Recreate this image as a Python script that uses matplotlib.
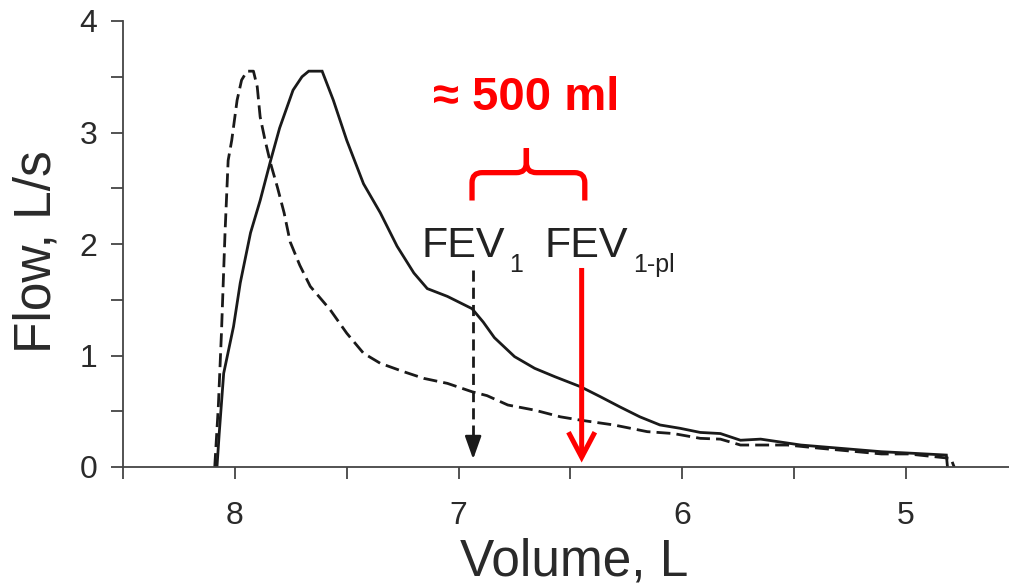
import matplotlib
matplotlib.use("Agg")
import matplotlib.pyplot as plt
from matplotlib.path import Path
from matplotlib.patches import PathPatch
from matplotlib.ticker import MultipleLocator, FuncFormatter

plt.rcParams['font.family'] = ['Liberation Sans', 'DejaVu Sans']

# ---- data ----
vol_solid = [8.08, 8.07, 8.05, 8.006, 7.976, 7.93, 7.887, 7.84, 7.80, 7.74, 7.70,
             7.67, 7.61, 7.56, 7.50, 7.425, 7.35, 7.275, 7.20, 7.14, 7.05, 6.94,
             6.89, 6.84, 6.75, 6.66, 6.57, 6.455, 6.366, 6.28, 6.19, 6.10, 6.01,
             5.92, 5.83, 5.74, 5.65, 5.47, 5.29, 5.11, 4.96, 4.82, 4.815]
flow_solid = [0.0, 0.30, 0.84, 1.26, 1.65, 2.10, 2.39, 2.75, 3.04, 3.38, 3.50,
              3.55, 3.55, 3.29, 2.93, 2.54, 2.28, 1.98, 1.74, 1.60, 1.53, 1.42,
              1.30, 1.16, 0.99, 0.885, 0.81, 0.72, 0.63, 0.54, 0.45, 0.377, 0.347,
              0.31, 0.30, 0.24, 0.25, 0.197, 0.167, 0.137, 0.122, 0.107, 0.0]

vol_dashed = [8.09, 8.074, 8.06, 8.044, 8.03, 8.014, 7.99, 7.97, 7.946, 7.917,
              7.90, 7.887, 7.865, 7.84, 7.81, 7.78, 7.753, 7.71, 7.663, 7.574,
              7.50, 7.425, 7.35, 7.246, 7.156, 7.05, 6.94, 6.873, 6.78, 6.66,
              6.545, 6.455, 6.306, 6.157, 6.04, 5.92, 5.83, 5.74, 5.53, 5.38,
              5.11, 4.99, 4.80, 4.785]
flow_dashed = [0.0, 0.54, 1.2, 2.1, 2.75, 2.93, 3.29, 3.47, 3.55, 3.55,
               3.41, 3.14, 2.93, 2.72, 2.51, 2.28, 2.02, 1.81, 1.62, 1.41,
               1.20, 1.02, 0.93, 0.855, 0.795, 0.75, 0.675, 0.64, 0.556, 0.51,
               0.45, 0.42, 0.377, 0.317, 0.30, 0.257, 0.25, 0.197, 0.197, 0.167,
               0.117, 0.117, 0.077, 0.0]

fev1 = 6.935
fev1_pl = 6.45
x_ticks = [8, 7, 6, 5]
y_ticks = [0, 1, 2, 3, 4]

# ---- figure ----
W, H = 1009, 586
fig = plt.figure(figsize=(W / 100, H / 100), dpi=100)
L, R, B, T = 123, 1009, 467, 21
ax = fig.add_axes([L / W, 1 - B / H, (R - L) / W, (B - T) / H])

ink = '#1a1a1a'
axc = '#444444'

ax.plot(vol_solid, flow_solid, color=ink, lw=2.0, solid_joinstyle='miter')
ax.plot(vol_dashed, flow_dashed, color=ink, lw=2.0, linestyle=(0, (5, 2.2)))

ax.set_xlim(8.5, 4.54)
ax.set_ylim(0, 4)

for s in ['top', 'right']:
    ax.spines[s].set_visible(False)
for s in ['left', 'bottom']:
    ax.spines[s].set_color(axc)
    ax.spines[s].set_linewidth(1.3)

ax.xaxis.set_major_locator(MultipleLocator(0.5))
ax.yaxis.set_major_locator(MultipleLocator(0.5))
fmt_x = FuncFormatter(lambda v, p: f"{int(round(v))}" if abs(v - round(v)) < 1e-6 and int(round(v)) in x_ticks else "")
fmt_y = FuncFormatter(lambda v, p: f"{int(round(v))}" if abs(v - round(v)) < 1e-6 and int(round(v)) in y_ticks else "")
ax.xaxis.set_major_formatter(fmt_x)
ax.yaxis.set_major_formatter(fmt_y)
ax.tick_params(axis='both', direction='out', length=8.5, width=1.3, color=axc,
               labelsize=23, labelcolor='#2a2a2a', pad=10)
ax.tick_params(axis='x', pad=16)

ax.set_xlabel('Volume, L', fontsize=37, color='#2a2a2a', va='baseline')
ax.xaxis.set_label_coords((574 - L) / (R - L), (B - 576) / (B - T))
ax.set_ylabel('Flow, L/s', fontsize=37, color='#2a2a2a', va='center')
ax.yaxis.set_label_coords((37 - L) / (R - L), (B - 252) / (B - T))

# ---- annotations ----
txtc = '#222222'
ax.text(7.165, 1.883, 'FEV', fontsize=31, color=txtc, ha='left', va='baseline')
ax.text(6.775, 1.749, '1', fontsize=18, color=txtc, ha='left', va='baseline')
ax.text(6.615, 1.883, 'FEV', fontsize=31, color=txtc, ha='left', va='baseline')
ax.text(6.222, 1.749, '1-pl', fontsize=18, color=txtc, ha='left', va='baseline')

red = '#ff0000'
ax.text(6.70, 3.31, '\u2248 500 ml', fontsize=34, fontweight='bold', color=red,
        ha='center', va='center')

# dashed FEV1 arrow
ax.plot([fev1, fev1], [1.77, 0.22], color=ink, lw=2.0, linestyle=(0, (4, 2.2)))
ax.annotate('', xy=(fev1, 0.07), xytext=(fev1, 0.26),
            arrowprops=dict(arrowstyle='-|>,head_length=1.4,head_width=0.5',
                            color=ink, lw=1.8, shrinkA=0, shrinkB=0,
                            mutation_scale=10))

# red FEV1-pl arrow
ax.annotate('', xy=(fev1_pl, 0.04), xytext=(fev1_pl, 1.785),
            arrowprops=dict(arrowstyle='->,head_length=1.8,head_width=0.95',
                            color=red, lw=3.6, shrinkA=0, shrinkB=0,
                            mutation_scale=10, capstyle='butt', joinstyle='miter'))

# brace (x axis is inverted: moving right means smaller volume)
xl, xr = fev1 + 0.005, fev1_pl - 0.014
xm = 6.697
yb, yh, yt = 2.39, 2.64, 2.86
rx, ry = 0.045, 0.09
verts = [(xl, yb), (xl, yh - ry), (xl, yh), (xl - rx, yh),
         (xm + rx, yh), (xm, yh), (xm, yh + ry), (xm, yt),
         (xm, yt), (xm, yh + ry), (xm, yh), (xm - rx, yh),
         (xr + rx, yh), (xr, yh), (xr, yh - ry), (xr, yb)]
codes = [Path.MOVETO, Path.LINETO, Path.CURVE3, Path.CURVE3,
         Path.LINETO, Path.CURVE3, Path.CURVE3, Path.LINETO,
         Path.MOVETO, Path.LINETO, Path.CURVE3, Path.CURVE3,
         Path.LINETO, Path.CURVE3, Path.CURVE3, Path.LINETO]
ax.add_patch(PathPatch(Path(verts, codes), facecolor='none', edgecolor=red,
                       lw=3.8, capstyle='butt', joinstyle='round'))

fig.savefig('out.png', dpi=100)
